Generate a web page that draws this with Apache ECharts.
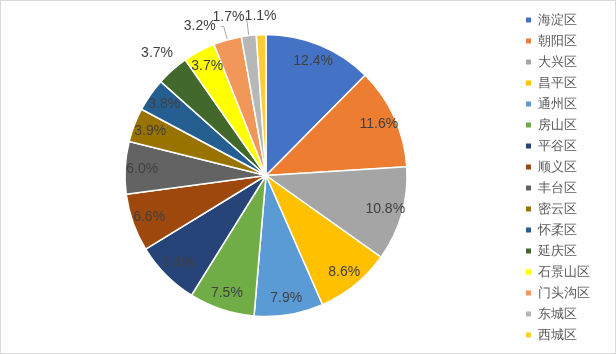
<!DOCTYPE html>
<html>
<head>
<meta charset="utf-8">
<script src="https://cdn.jsdelivr.net/npm/echarts@6/dist/echarts.min.js"></script>
<style>
  html, body { margin: 0; padding: 0; background: #fff; }
  #chart { width: 614px; height: 352px; border: 1px solid #d9d9d9; }
</style>
</head>
<body>
<div id="chart"></div>
<script>
// 各区占比 (%)
const districts = ['海淀区', '朝阳区', '大兴区', '昌平区', '通州区', '房山区', '平谷区', '顺义区',
  '丰台区', '密云区', '怀柔区', '延庆区', '石景山区', '门头沟区', '东城区', '西城区'];
const shares = [12.4, 11.6, 10.8, 8.6, 7.9, 7.5, 7.4, 6.6, 6.0, 3.9, 3.8, 3.7, 3.7, 3.2, 1.7, 1.1];
const colors = ['#4472C4', '#ED7D31', '#A5A5A5', '#FFC000', '#5B9BD5', '#70AD47', '#264478', '#9E480E',
  '#636363', '#997300', '#255E91', '#43682B', '#FFFF00', '#F1975A', '#B7B7B7', '#FFCD33'];

// labels placed outside the pie
const leaderLabels = ['门头沟区', '东城区'];
const farLabels = ['延庆区'];
const topLabel = '西城区';

const chart = echarts.init(document.getElementById('chart'));

const pct = (v) => v.toFixed(1) + '%';
const labelText = { color: '#404040', fontSize: 14, fontFamily: 'Liberation Sans, Arial, sans-serif' };

const center = [265, 174.5];
const R = 141;

const mainData = districts.map((name, i) => {
  const item = { name, value: shares[i], itemStyle: { color: colors[i] } };
  if (name === '门头沟区') {
    item.label = { show: true, position: 'outside', formatter: pct(shares[i]) };
    item.labelLine = { show: true, length: 14, length2: 3 };
  }
  if (name === '东城区') {
    item.label = { show: true, position: 'outside', formatter: pct(shares[i]), distanceToLabelLine: 2 };
    item.labelLine = { show: true, length: 19, length2: 0 };
  }
  if (name === topLabel) {
    item.label = { show: true, position: 'outside', formatter: pct(shares[i]), distanceToLabelLine: 0 };
    item.labelLine = { show: false, length: 18, length2: 0 };
  }
  return item;
});
const topIndex = districts.indexOf(topLabel);

// transparent ring used only to place labels at a given radius
const ringData = (showFn) => districts.map((name, i) => ({
  name,
  value: shares[i],
  label: { show: showFn(name), formatter: pct(shares[i]) }
}));

const ringBase = {
  type: 'pie',
  center,
  startAngle: 90,
  clockwise: true,
  silent: true,
  legendHoverLink: false,
  animation: false,
  itemStyle: { color: 'rgba(0,0,0,0)', borderWidth: 0 },
  label: Object.assign({ position: 'inside' }, labelText),
  labelLine: { show: false },
  emphasis: { disabled: true }
};

chart.setOption({
  animation: false,
  legend: {
    orient: 'vertical',
    left: 523,
    top: 12,
    padding: 0,
    icon: 'rect',
    itemWidth: 7,
    itemHeight: 7,
    itemGap: 7,
    selectedMode: false,
    data: districts,
    textStyle: { color: '#595959', fontSize: 13, lineHeight: 14, padding: [0, 0, 0, 1] }
  },
  series: [
    {
      type: 'pie',
      center,
      radius: [0, R],
      startAngle: 90,
      clockwise: true,
      avoidLabelOverlap: false,
      silent: true,
      itemStyle: { borderColor: '#fff', borderWidth: 1.5 },
      label: Object.assign({ show: false }, labelText),
      labelLine: { lineStyle: { color: '#a6a6a6', width: 1 } },
      labelLayout: (p) => (p.dataIndex === topIndex ? { dx: 16 } : {}),
      emphasis: { disabled: true },
      data: mainData
    },
    Object.assign({}, ringBase, {
      radius: [100, R + 1],
      data: ringData((n) => leaderLabels.indexOf(n) < 0 && farLabels.indexOf(n) < 0 && n !== topLabel)
    }),
    Object.assign({}, ringBase, {
      radius: [R, R + 40],
      data: ringData((n) => farLabels.indexOf(n) >= 0)
    })
  ]
});
</script>
</body>
</html>
